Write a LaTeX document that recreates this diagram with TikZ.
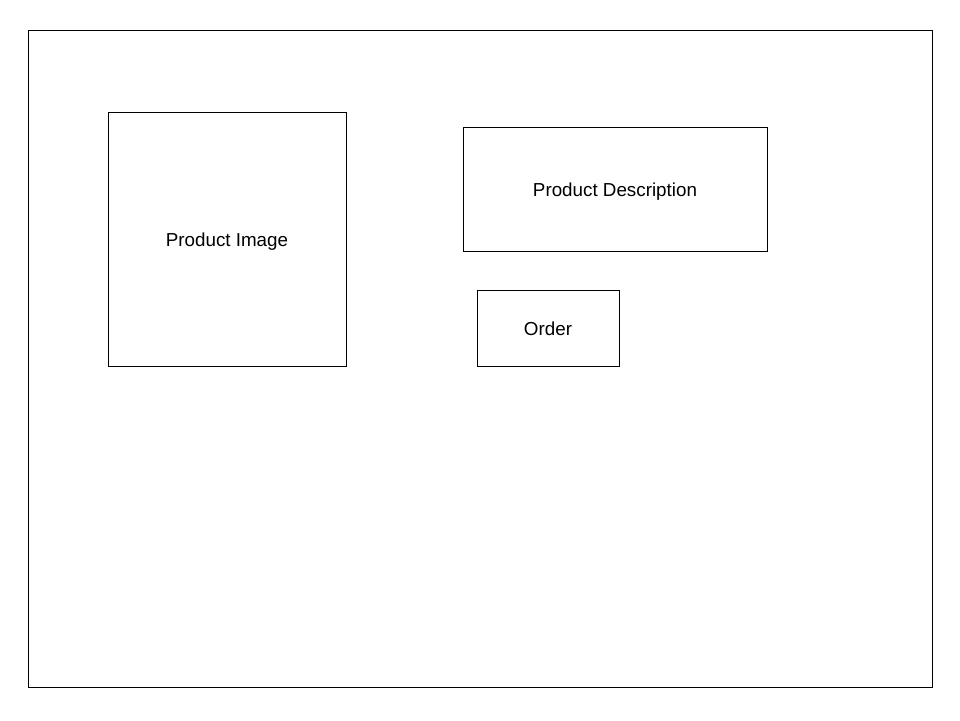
\documentclass[tikz,border=0pt]{standalone}
\usepackage{fontspec}
\setmainfont{Liberation Sans}
\begin{document}
\begin{tikzpicture}[x=0.02cm, y=-0.02cm,
        box/.style={draw, line width=0.45pt, inner sep=0pt, text height=8pt, text depth=0pt, font=\fontsize{10.7}{12}\selectfont}]
            \useasboundingbox (0,0) rectangle (960,720);
            \draw[line width=0.45pt] (28,30) rectangle (932,687);

            \node[box, minimum width=4.76cm, minimum height=5.08cm] (image) at (227,239) {Product Image};
            \node[box, minimum width=6.08cm, minimum height=2.48cm] (desc) at (615,189) {Product Description};
            \node[box, minimum width=2.84cm, minimum height=1.52cm] (order) at (548,328) {Order};
        \end{tikzpicture}
\end{document}
